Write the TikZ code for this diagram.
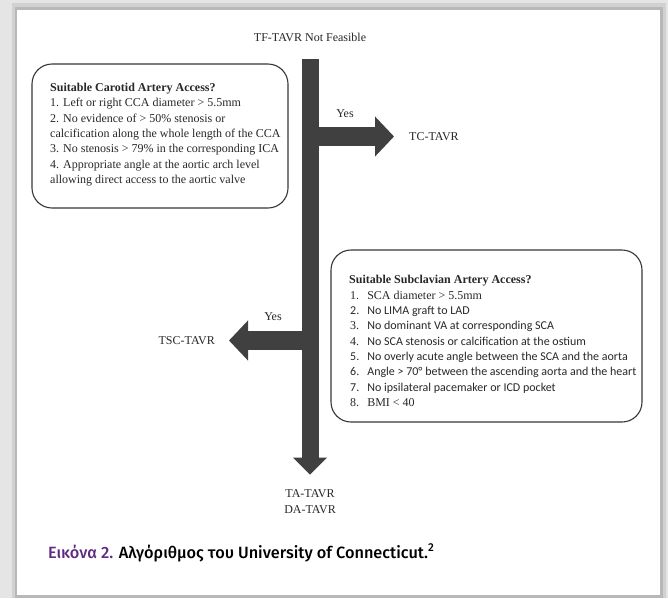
\documentclass[tikz,border=0pt]{standalone}
\usepackage{fontspec}
\setmainfont{Liberation Serif}
\newfontfamily\calibrifont{Carlito}
\newfontfamily\figcapfont{Fira Sans Medium}
\usetikzlibrary{arrows.meta}

\definecolor{arrowgray}{RGB}{64,64,64}
\definecolor{boxgray}{RGB}{55,55,55}
\definecolor{scantext}{RGB}{40,40,40}
\definecolor{figpurple}{RGB}{94,42,128}

\tikzset{
  flowtext/.style={text=scantext, font=\fontsize{12}{15.3}\selectfont, inner sep=2pt},
  stemarrow/.style={draw=arrowgray, line width=17pt, -{Triangle[length=17pt,width=33pt]}},
  sidearrow/.style={draw=arrowgray, line width=19pt, -{Triangle[length=19pt,width=39pt]}},
  accessbox/.style={draw=boxgray, line width=1.1pt, rounded corners=20pt},
}

\begin{document}
\begin{tikzpicture}[x=1pt,y=-1pt]
    \useasboundingbox (0,0) rectangle (668,598);
    % page with the scanned card
    \fill[black!10] (0,0) rectangle (668,598);
    \fill[black!18] (12,3) rectangle (666,598);
    \fill[black!28] (15,7) rectangle (663,598);
    \fill[white] (17,10) rectangle (660,595);

    \node[flowtext] (start) at (310,37) {TF-TAVR Not Feasible};
    \node[flowtext, anchor=west] (tc) at (407,136.5) {TC-TAVR};
    \node[flowtext, anchor=east] (tsc) at (217,340.5) {TSC-TAVR};
    \node[flowtext, align=center] (ta) at (310,501.5) {TA-TAVR\\DA-TAVR};
    \node[flowtext] (yestc) at (345,114) {Yes};
    \node[flowtext] (yestsc) at (273,317) {Yes};

    % carotid box
    \draw[accessbox] (32,64) rectangle (288,208);
    \node[flowtext, anchor=north west, align=left, inner sep=0pt] (carotid) at (50,83) {%
        \textbf{Suitable Carotid Artery Access?}\\
        1. Left or right CCA diameter > 5.5mm\\
        2. No evidence of > 50\% stenosis or\\
        calcification along the whole length of the CCA\\
        3. No stenosis > 79\% in the corresponding ICA\\
        4. Appropriate angle at the aortic arch level\\
        allowing direct access to the aortic valve};

    % subclavian box
    \draw[accessbox] (331,250) rectangle (642,422);
    \node[flowtext, anchor=north west, inner sep=0pt] (subclavian) at (349,273) {%
        \begin{tabular}{@{\hspace{1pt}}l@{\hspace{8pt}}l@{}}
        \multicolumn{2}{@{}l@{}}{\textbf{Suitable Subclavian Artery Access?}}\\
        1. & SCA diameter > 5.5mm\\
        {\calibrifont 2.} & {\calibrifont No LIMA graft to LAD}\\
        3. & {\calibrifont No dominant VA at corresponding SCA}\\
        4. & {\calibrifont No SCA stenosis or calcification at the ostium}\\
        {\calibrifont 5.} & {\calibrifont No overly acute angle between the SCA and the aorta}\\
        {\calibrifont 6.} & {\calibrifont Angle > 70° between the ascending aorta and the heart}\\
        {\calibrifont 7.} & {\calibrifont No ipsilateral pacemaker or ICD pocket}\\
        8. & BMI < 40
        \end{tabular}};

    \coordinate (stem) at (310,59);
    \coordinate (tcfork) at (310,136.5);
    \coordinate (tscfork) at (310,340.5);
    \draw[sidearrow, shorten >=13pt] (tcfork) -- (tc.west);
    \draw[sidearrow, shorten >=12pt] (tscfork) -- (tsc.east);
    \draw[stemarrow, shorten >=13pt] (stem) -- (ta.north);

    \node[anchor=base west, inner sep=0pt, font=\figcapfont\fontsize{16.3}{19}\selectfont] (caption) at (48,558)
        {\textcolor{figpurple}{Εικόνα 2.} Αλγόριθμος του University of Connecticut.\textsuperscript{2}};
\end{tikzpicture}
\end{document}
